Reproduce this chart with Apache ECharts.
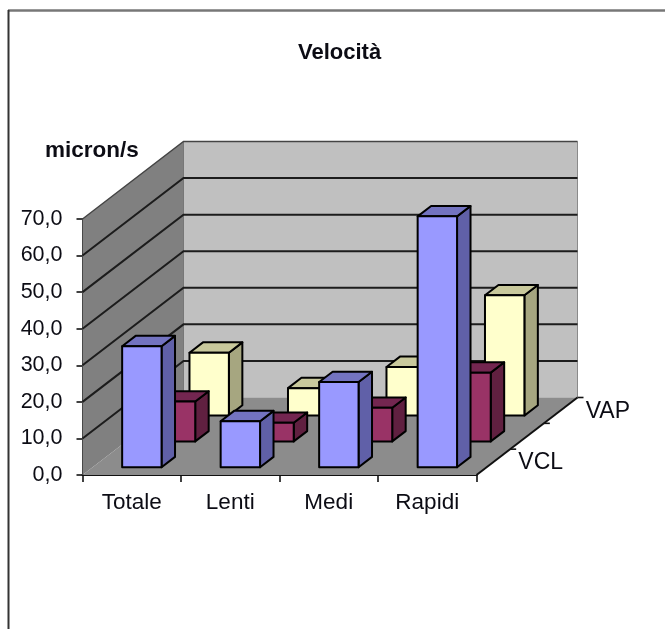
<!DOCTYPE html>
<html>
<head>
<meta charset="utf-8">
<style>
html,body{margin:0;padding:0;background:#fff;}
#chart{width:665px;height:629px;filter:blur(0.5px);}
</style>
<script src="https://cdn.jsdelivr.net/npm/echarts@6/dist/echarts.min.js"></script>
</head>
<body>
<div id="chart"></div>
<script>
const categories = ['Totale', 'Lenti', 'Medi', 'Rapidi'];
const vcl = [33.1, 12.6, 23.3, 68.6];
const vsl = [10.9, 5.1, 9.2, 18.8];
const vap = [17.2, 7.5, 13.3, 32.9];
const depthLabels = ['VCL', '', 'VAP'];
const wallTicks = [10, 20, 30, 40, 50, 60, 70];

const DX = 101, DY = -77.5;
const FONT = '"Liberation Sans", Arial, sans-serif';
const INK = '#0c0c14';

function geom(api) {
  const band = api.size([1, 0])[0];
  const x0 = api.coord([0, 0])[0] - band / 2;
  const x1 = api.coord([categories.length - 1, 0])[0] + band / 2;
  return { band, x0, x1 };
}
function wallItem(params, api) {
  const g = geom(api);
  const y0 = api.coord([0, 0])[1], y1 = api.coord([0, 70])[1];
  const poly = (pts, fill) => ({ type: 'polygon', shape: { points: pts }, style: { fill, stroke: null } });
  return {
    type: 'group',
    children: [
      poly([[g.x0 + DX, y0 + DY], [g.x1 + DX, y0 + DY], [g.x1 + DX, y1 + DY], [g.x0 + DX, y1 + DY]], '#c0c0c0'),
      poly([[g.x0, y0], [g.x0 + DX, y0 + DY], [g.x0 + DX, y1 + DY], [g.x0, y1]], '#808080'),
      poly([[g.x0, y0], [g.x1, y0], [g.x1 + DX, y0 + DY], [g.x0 + DX, y0 + DY]], '#8c8c8c'),
      { type: 'line', shape: { x1: g.x1 + DX, y1: y0 + DY, x2: g.x1 + DX, y2: y1 + DY }, style: { stroke: '#8a8a8a', lineWidth: 1 } },
      { type: 'line', shape: { x1: g.x0 + DX, y1: y0 + DY, x2: g.x0 + DX, y2: y1 + DY }, style: { stroke: '#777', lineWidth: 1 } }
    ]
  };
}
function gridLineItem(params, api) {
  const g = geom(api);
  const v = api.value(0);
  const y = api.coord([0, v])[1];
  const top = v === 70;
  return {
    type: 'polyline',
    shape: { points: [[g.x0, y], [g.x0 + DX, y + DY], [g.x1 + DX, y + DY]] },
    style: { fill: null, stroke: top ? '#444' : '#1c1c1c', lineWidth: top ? 1.4 : 2 }
  };
}
function depthItem(params, api) {
  const g = geom(api);
  const y0 = api.coord([0, 0])[1];
  const r = params.dataIndex;
  const d = (r + 1) / 3, c = (r + 0.5) / 3;
  const px = g.x1 + d * DX, py = y0 + d * DY;
  const children = [{ type: 'line', shape: { x1: px, y1: py, x2: px + 6, y2: py }, style: { stroke: '#111', lineWidth: 1.6 } }];
  if (r === 0) children.push({ type: 'line', shape: { x1: g.x1, y1: y0, x2: g.x1 + DX, y2: y0 + DY }, style: { stroke: '#111', lineWidth: 2 } });
  if (depthLabels[r]) children.push({
    type: 'text',
    style: { x: g.x1 + c * DX + 25, y: y0 + c * DY + 1, text: depthLabels[r], fill: INK, font: '23px ' + FONT, textAlign: 'left', textVerticalAlign: 'middle' }
  });
  return { type: 'group', children };
}
function barSeries(name, values, row, faces) {
  return {
    name, type: 'custom', coordinateSystem: 'cartesian2d', clip: false, silent: true,
    encode: { x: 0, y: 1 },
    data: values.map((v, i) => [i, v]),
    renderItem(params, api) {
      const band = api.size([1, 0])[0];
      const c = api.coord([api.value(0), 0]);
      const t = api.coord([api.value(0), api.value(1)]);
      const d0 = (row + 0.3) / 3, d1 = (row + 0.7) / 3;
      const l = c[0] - band * 0.2, r = c[0] + band * 0.2;
      const at = (x, y, d) => [x + d * DX, y + d * DY];
      const s = { stroke: '#000', lineWidth: 2, lineJoin: 'round' };
      const poly = (pts, fill) => ({ type: 'polygon', shape: { points: pts }, style: Object.assign({ fill }, s) });
      return {
        type: 'group',
        children: [
          poly([at(r, c[1], d0), at(r, c[1], d1), at(r, t[1], d1), at(r, t[1], d0)], faces[1]),
          poly([at(l, t[1], d0), at(r, t[1], d0), at(r, t[1], d1), at(l, t[1], d1)], faces[2]),
          poly([at(l, c[1], d0), at(r, c[1], d0), at(r, t[1], d0), at(l, t[1], d0)], faces[0])
        ]
      };
    }
  };
}

const chart = echarts.init(document.getElementById('chart'), null, { renderer: 'canvas' });
chart.setOption({
  animation: false,
  backgroundColor: '#fff',
  title: [
    { text: 'Velocità', left: 298, top: 42, padding: 0, textStyle: { fontFamily: FONT, fontSize: 22, fontWeight: 'bold', color: INK } },
    { text: 'micron/s', left: 45, top: 139, padding: 0, textStyle: { fontFamily: FONT, fontSize: 22.5, fontWeight: 'bold', color: INK } }
  ],
  grid: { left: 82.5, top: 219, width: 394, height: 256, containLabel: false },
  xAxis: {
    type: 'category', data: categories, boundaryGap: true,
    axisLine: { lineStyle: { color: '#111', width: 2 } },
    axisTick: { show: true, alignWithLabel: false, length: 7, lineStyle: { color: '#111', width: 1.6 } },
    axisLabel: { margin: 16, fontFamily: FONT, fontSize: 22.5, color: INK, interval: 0 }
  },
  yAxis: {
    type: 'value', min: 0, max: 70, interval: 10,
    axisLine: { show: true, lineStyle: { color: '#111', width: 2 } },
    axisTick: { show: true, length: 6, lineStyle: { color: '#111', width: 1.6 } },
    splitLine: { show: false },
    axisLabel: { margin: 20, fontFamily: FONT, fontSize: 21.5, color: INK, formatter: v => v.toFixed(1).replace('.', ',') }
  },
  graphic: [
    { type: 'line', silent: true, shape: { x1: 8, y1: 10.5, x2: 665, y2: 10.5 }, style: { stroke: '#777', lineWidth: 2.5 } },
    { type: 'line', silent: true, shape: { x1: 8.5, y1: 10, x2: 8.5, y2: 629 }, style: { stroke: '#333', lineWidth: 2 } }
  ],
  series: [
    { type: 'custom', silent: true, clip: false, z: 1, data: [[0, 0]], encode: { x: 0, y: 1 }, renderItem: wallItem },
    { type: 'custom', silent: true, clip: false, z: 1, data: wallTicks.map(v => [v]), encode: { y: 0 }, renderItem: gridLineItem },
    { type: 'custom', silent: true, clip: false, z: 1, data: depthLabels.map((l, i) => [i]), encode: { x: 0 }, renderItem: depthItem },
    Object.assign(barSeries('VAP', vap, 2, ['#ffffcc', '#a6a680', '#c9c99c']), { z: 2 }),
    Object.assign(barSeries('VSL', vsl, 1, ['#993366', '#602040', '#732650']), { z: 3 }),
    Object.assign(barSeries('VCL', vcl, 0, ['#9999ff', '#6060a8', '#7373c0']), { z: 4 })
  ]
});
</script>
</body>
</html>
